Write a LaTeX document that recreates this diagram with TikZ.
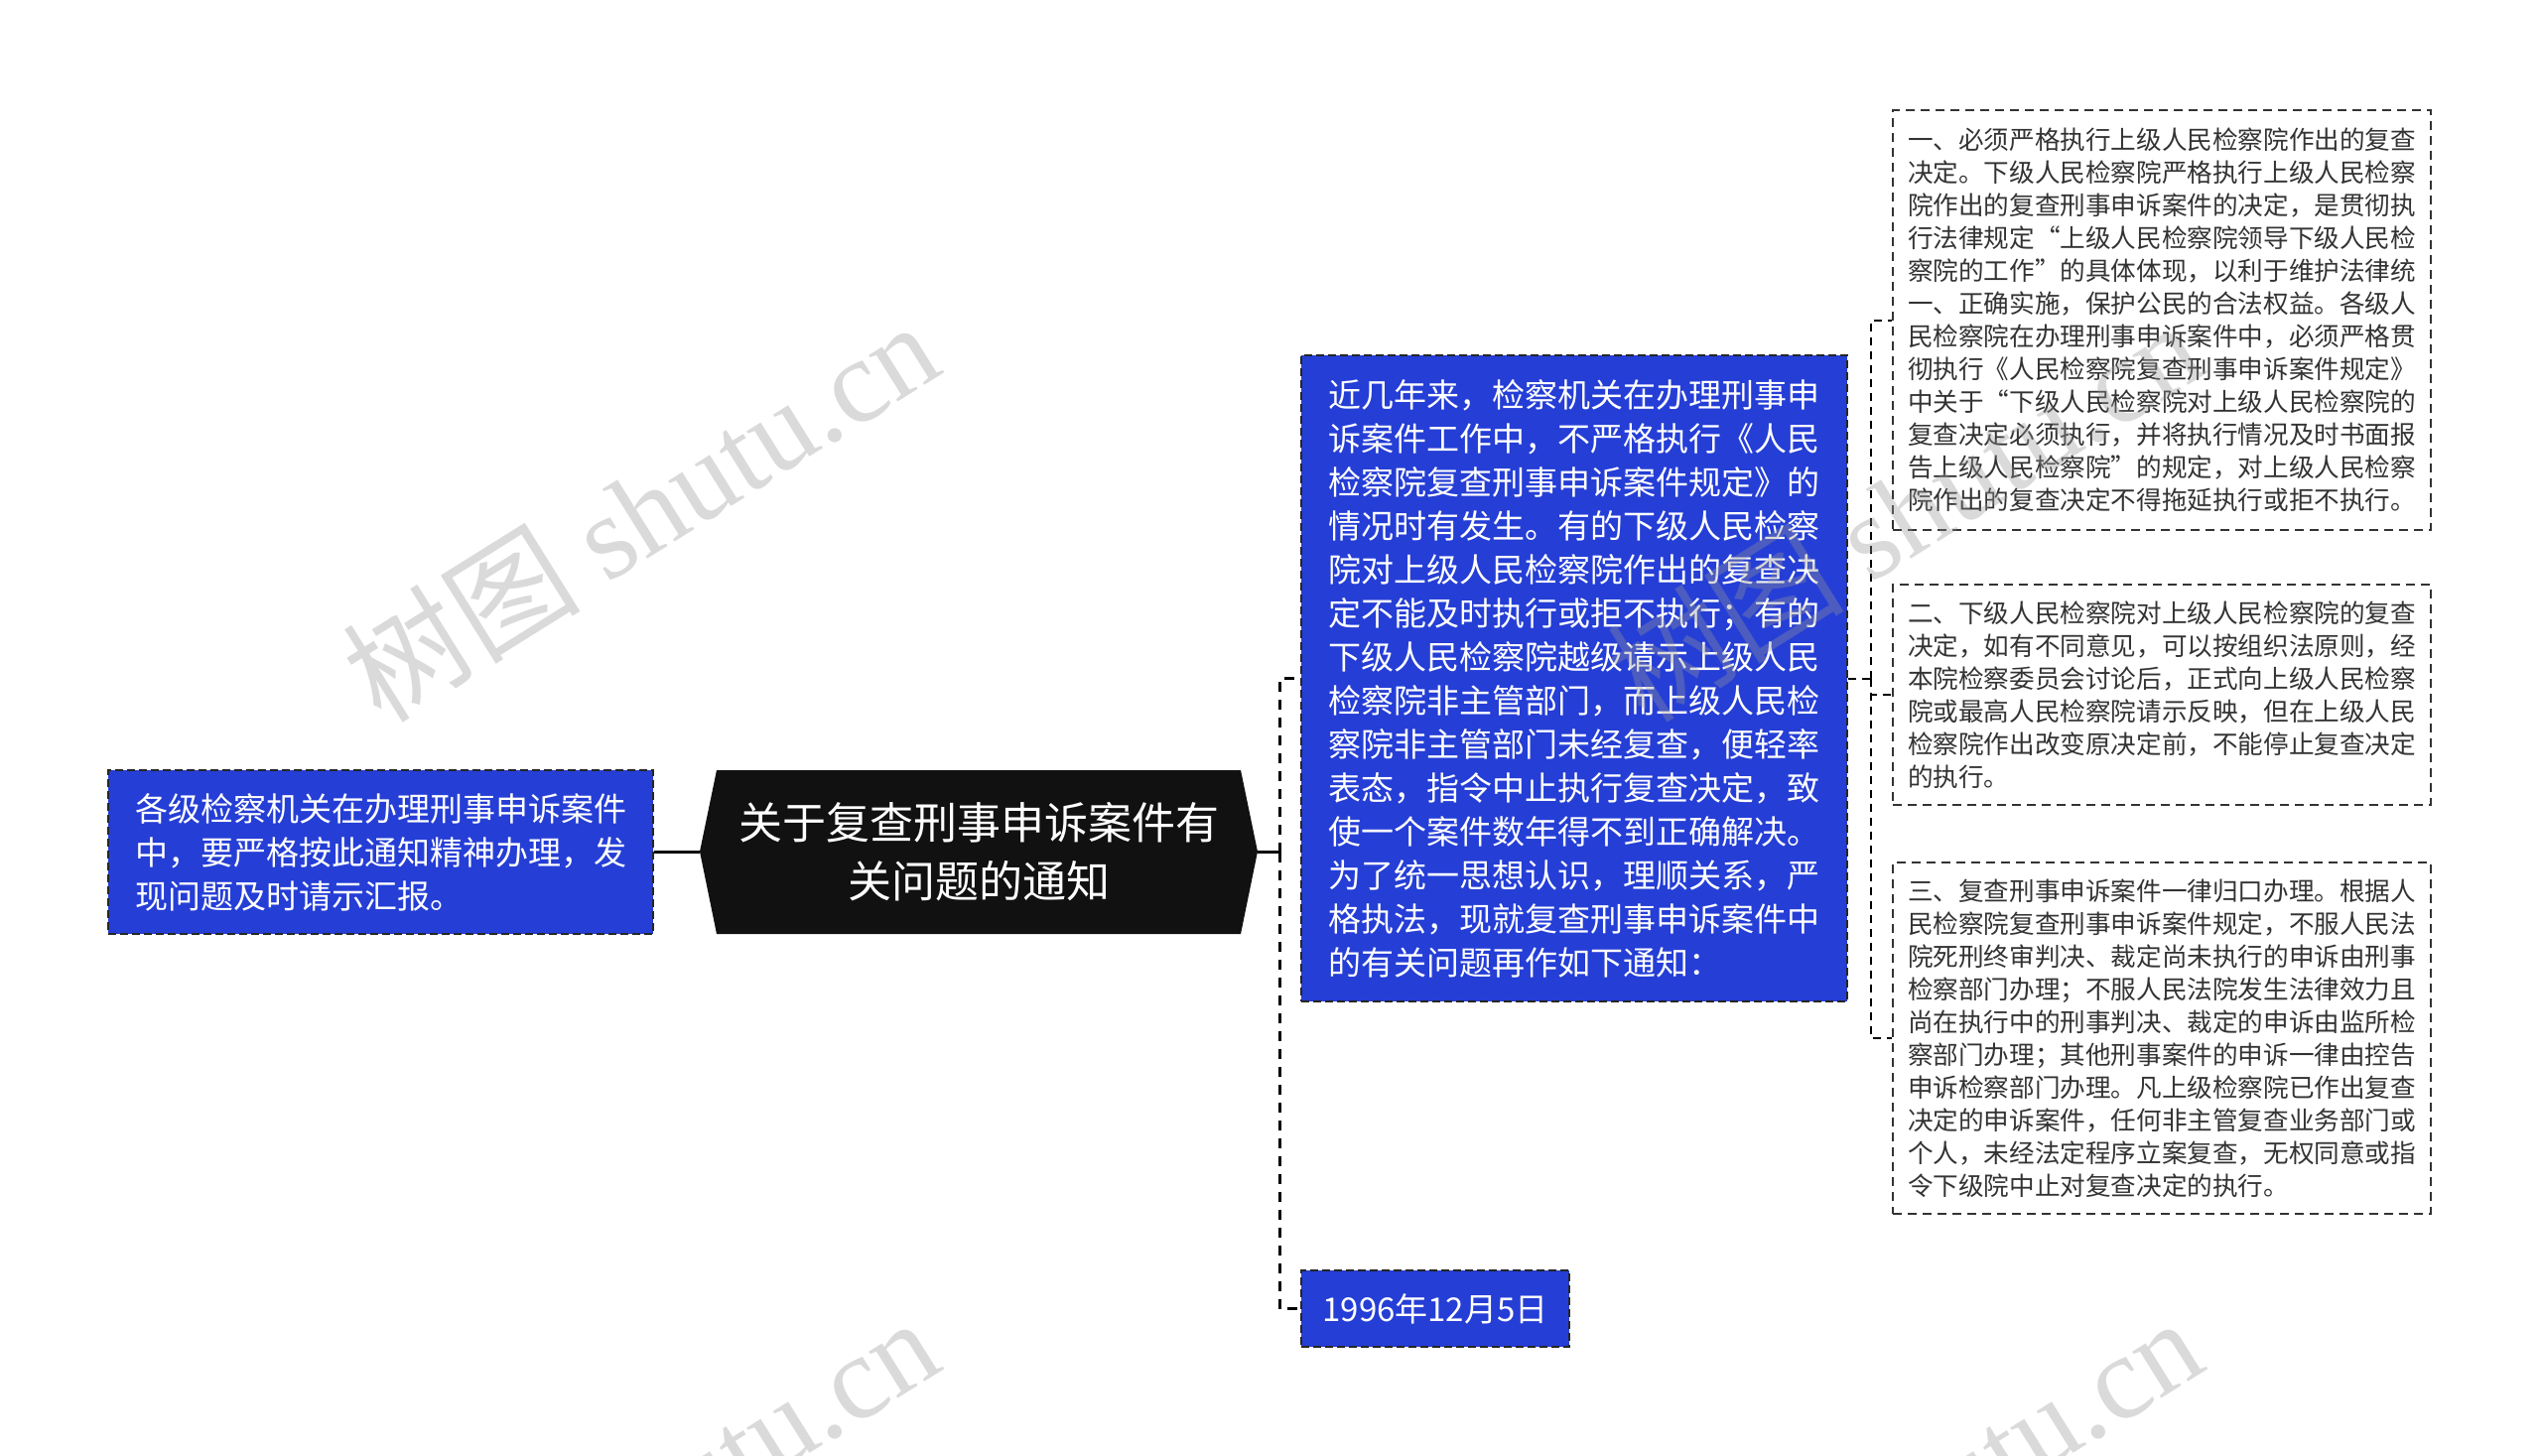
\documentclass[tikz,border=0pt]{standalone}
\usepackage{fontspec}
\setmainfont{Noto Sans CJK SC}
\newfontfamily\wmserif{Liberation Serif}
\definecolor{bluefill}{RGB}{37,62,214}
\definecolor{rootfill}{RGB}{17,17,17}
\definecolor{txtgray}{RGB}{51,51,51}
\definecolor{wmgray}{RGB}{150,150,150}
\tikzset{
  bluebox/.style={draw=black!85, line width=1pt, dash pattern=on 4pt off 2pt, fill=bluefill, text=white, inner sep=0pt, align=left, font=\fontsize{16.5pt}{22pt}\selectfont},
  notebox/.style={draw=txtgray, line width=1pt, dash pattern=on 4.5pt off 3pt, fill=white, text=txtgray, inner sep=0pt, align=left, minimum width=271pt, font=\fontsize{12.8pt}{16.5pt}\selectfont},
  solidconn/.style={draw=black, line width=1.5pt},
  trunkconn/.style={draw=black, line width=1.5pt, dash pattern=on 5pt off 4pt},
  thinconn/.style={draw=black, line width=1pt, dash pattern=on 4pt off 3pt},
  wmark/.style={text=wmgray, opacity=0.35, rotate=32, font=\fontsize{60pt}{64pt}\selectfont}
}
\begin{document}
\begin{tikzpicture}[x=0.5pt,y=-0.5pt]
\useasboundingbox[fill=white] (0,0) rectangle (2560,1467);

% root node (hexagonal black shape)
\fill[rootfill] (705,858) -- (722,776) -- (1250,776) -- (1267,858) -- (1250,941) -- (722,941) -- cycle;
\node[text=white, align=center, inner sep=0pt, minimum width=281pt, minimum height=82.5pt,
      font=\fontsize{22pt}{29.5pt}\selectfont] (root) at (986,858.5)
  {关于复查刑事申诉案件有\\关问题的通知};

% left box
\node[bluebox, minimum width=274.5pt, minimum height=82.5pt] (lb) at (383.5,858.5)
  {各级检察机关在办理刑事申诉案件\\中，要严格按此通知精神办理，发\\现问题及时请示汇报。};

% big middle box
\node[bluebox, minimum width=275pt, minimum height=325.5pt] (big) at (1586,683.5)
  {近几年来，检察机关在办理刑事申\\诉案件工作中，不严格执行《人民\\检察院复查刑事申诉案件规定》的\\情况时有发生。有的下级人民检察\\院对上级人民检察院作出的复查决\\定不能及时执行或拒不执行；有的\\下级人民检察院越级请示上级人民\\检察院非主管部门，而上级人民检\\察院非主管部门未经复查，便轻率\\表态，指令中止执行复查决定，致\\使一个案件数年得不到正确解决。\\为了统一思想认识，理顺关系，严\\格执法，现就复查刑事申诉案件中\\的有关问题再作如下通知：};

% date box
\node[bluebox, align=center, minimum width=135pt, minimum height=38.5pt] (date) at (1446,1318.5)
  {1996年12月5日};

% right note boxes
\node[notebox, minimum height=211.5pt] (r1) at (2178,322.5)
  {一、必须严格执行上级人民检察院作出的复查\\决定。下级人民检察院严格执行上级人民检察\\院作出的复查刑事申诉案件的决定，是贯彻执\\行法律规定“上级人民检察院领导下级人民检\\察院的工作”的具体体现，以利于维护法律统\\一、正确实施，保护公民的合法权益。各级人\\民检察院在办理刑事申诉案件中，必须严格贯\\彻执行《人民检察院复查刑事申诉案件规定》\\中关于“下级人民检察院对上级人民检察院的\\复查决定必须执行，并将执行情况及时书面报\\告上级人民检察院”的规定，对上级人民检察\\院作出的复查决定不得拖延执行或拒不执行。};
\node[notebox, minimum height=111pt] (r2) at (2178,700)
  {二、下级人民检察院对上级人民检察院的复查\\决定，如有不同意见，可以按组织法原则，经\\本院检察委员会讨论后，正式向上级人民检察\\院或最高人民检察院请示反映，但在上级人民\\检察院作出改变原决定前，不能停止复查决定\\的执行。};
\node[notebox, minimum height=177pt] (r3) at (2178,1046)
  {三、复查刑事申诉案件一律归口办理。根据人\\民检察院复查刑事申诉案件规定，不服人民法\\院死刑终审判决、裁定尚未执行的申诉由刑事\\检察部门办理；不服人民法院发生法律效力且\\尚在执行中的刑事判决、裁定的申诉由监所检\\察部门办理；其他刑事案件的申诉一律由控告\\申诉检察部门办理。凡上级检察院已作出复查\\决定的申诉案件，任何非主管复查业务部门或\\个人，未经法定程序立案复查，无权同意或指\\令下级院中止对复查决定的执行。};

% connectors
\draw[solidconn] (lb.east) -- (root.west);
\coordinate (t1) at (1289,858.5);
\draw[solidconn] (root.east) -- (t1);
\draw[trunkconn] (t1) |- (big.west);
\draw[trunkconn] (t1) |- (date.west);
\coordinate (t2) at (1885,683.5);
\draw[thinconn] (big.east) -- (t2);
\draw[thinconn] (t2) |- (r1.west);
\draw[thinconn] (t2) |- (r2.west);
\draw[thinconn] (t2) |- (r3.west);

% watermarks
\begin{scope}
\clip (0,0) rectangle (2560,1467);
\node[wmark] (wm1) at (645,514) {树图 {\wmserif shutu.cn}};
\node[wmark] (wm2) at (1918,514) {树图 {\wmserif shutu.cn}};
\node[wmark] (wm3) at (645,1518) {树图 {\wmserif shutu.cn}};
\node[wmark] (wm4) at (1918,1518) {树图 {\wmserif shutu.cn}};
\end{scope}
\end{tikzpicture}
\end{document}
